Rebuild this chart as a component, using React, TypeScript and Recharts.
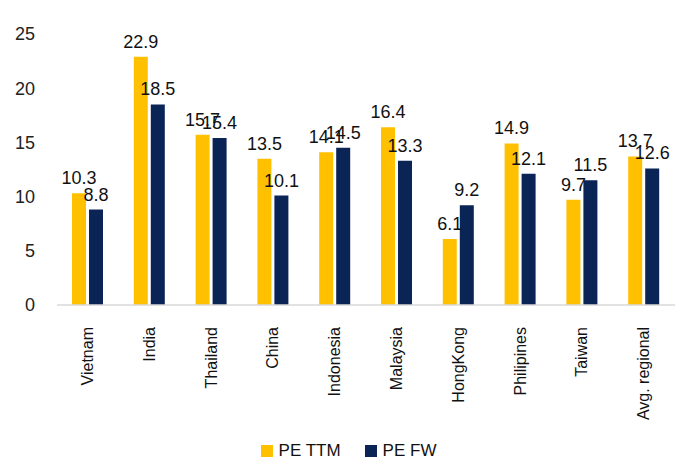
import { BarChart, Bar, XAxis, YAxis, Legend, LabelList } from 'recharts';

const countries = ['Vietnam', 'India', 'Thailand', 'China', 'Indonesia', 'Malaysia', 'HongKong', 'Philipines', 'Taiwan', 'Avg. regional'];
const peTTM = [10.3, 22.9, 15.7, 13.5, 14.1, 16.4, 6.1, 14.9, 9.7, 13.7];
const peFW = [8.8, 18.5, 15.4, 10.1, 14.5, 13.3, 9.2, 12.1, 11.5, 12.6];
const yTicks = [0, 5, 10, 15, 20, 25];

const data = countries.map((name, i) => ({ name, ttm: peTTM[i], fw: peFW[i] }));

const FONT = '"Liberation Sans", Arial, sans-serif';
const YELLOW = '#FFC000';
const NAVY = '#0A2456';

const CountryTick = ({ x, y, payload }: { x?: number; y?: number; payload?: { value: string } }) => (
  <g transform={`translate(${x},${(y ?? 0) + 14})`}>
    <text transform="rotate(-90)" textAnchor="end" dy={5} fontSize={16} fontFamily={FONT} fill="#111">
      {payload?.value}
    </text>
  </g>
);

const LegendContent = () => (
  <div style={{ display: 'flex', justifyContent: 'center', gap: 24, paddingLeft: 22, fontFamily: FONT, fontSize: 17, color: '#111' }}>
    {[
      { label: 'PE TTM', color: YELLOW },
      { label: 'PE FW', color: NAVY },
    ].map((it) => (
      <div key={it.label} style={{ display: 'flex', alignItems: 'center', gap: 6 }}>
        <span style={{ width: 12, height: 12, background: it.color, display: 'inline-block' }} />
        <span>{it.label}</span>
      </div>
    ))}
  </div>
);

export default function App() {
  return (
    <div style={{ position: 'absolute', left: 0, top: 0, width: 680, height: 461, background: '#fff' }}>
      <BarChart
        width={680}
        height={461}
        data={data}
        margin={{ top: 34, right: 5, left: 0, bottom: 0 }}
        barSize={14}
        barGap={3}
      >
        <XAxis
          dataKey="name"
          interval={0}
          tickLine={false}
          axisLine={{ stroke: '#D9D9D9', strokeWidth: 1.5 }}
          tick={<CountryTick />}
          height={122}
        />
        <YAxis
          domain={[0, 25]}
          ticks={yTicks}
          width={57}
          axisLine={false}
          tickLine={false}
          tickMargin={16}
          tick={{ fontSize: 18, fontFamily: FONT, fill: '#222' }}
        />
        <Legend verticalAlign="bottom" height={34} wrapperStyle={{ top: 441 }} content={<LegendContent />} />
        <Bar dataKey="ttm" name="PE TTM" fill={YELLOW} isAnimationActive={false}>
          <LabelList dataKey="ttm" position="top" offset={9} fontSize={18} fontFamily={FONT} fill="#111" />
        </Bar>
        <Bar dataKey="fw" name="PE FW" fill={NAVY} isAnimationActive={false}>
          <LabelList dataKey="fw" position="top" offset={9} fontSize={18} fontFamily={FONT} fill="#111" />
        </Bar>
      </BarChart>
    </div>
  );
}
